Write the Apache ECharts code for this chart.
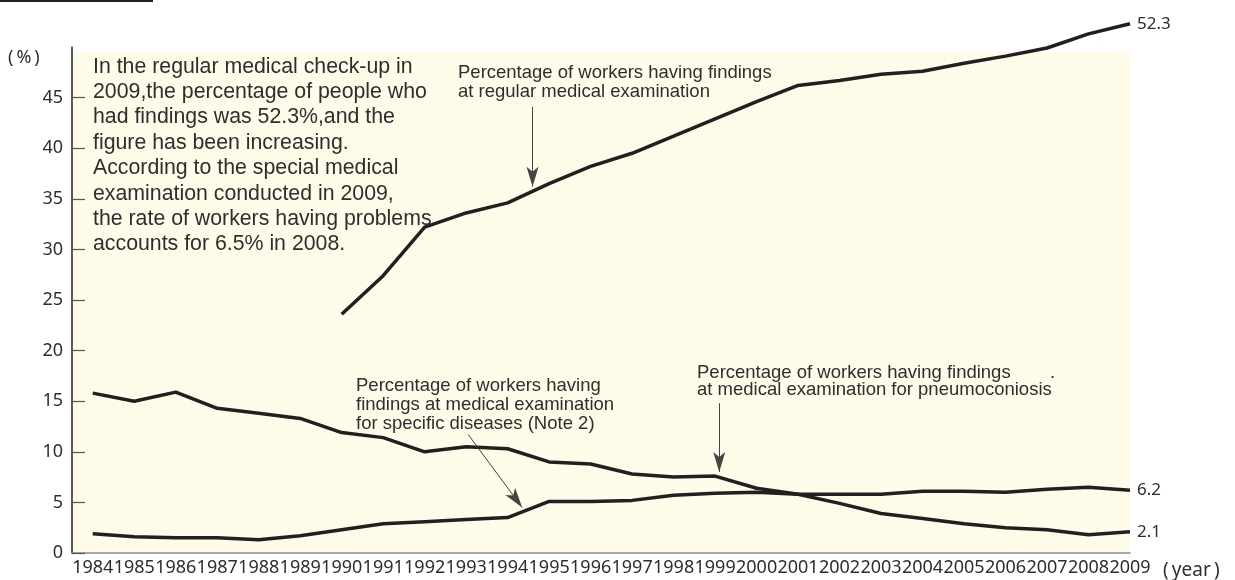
<!DOCTYPE html>
<html>
<head>
<meta charset="utf-8">
<script src="https://cdn.jsdelivr.net/npm/echarts@6/dist/echarts.min.js"></script>
<style>
  html, body { margin: 0; padding: 0; background: #fff; }
  #chart { width: 1235px; height: 580px; }
</style>
</head>
<body>
<div id="chart"></div>
<script>
// years on the x axis
const years = [1984, 1985, 1986, 1987, 1988, 1989, 1990, 1991, 1992, 1993, 1994, 1995, 1996,
  1997, 1998, 1999, 2000, 2001, 2002, 2003, 2004, 2005, 2006, 2007, 2008, 2009];
const regularYears = [1990, 1991, 1992, 1993, 1994, 1995, 1996, 1997, 1998, 1999,
  2000, 2001, 2002, 2003, 2004, 2005, 2006, 2007, 2008, 2009];
const yTicks = [0, 5, 10, 15, 20, 25, 30, 35, 40, 45];

// percentages (%)
const regular = [23.6, 27.4, 32.2, 33.6, 34.6, 36.5, 38.2, 39.5, 41.2, 42.9,
  44.6, 46.2, 46.7, 47.3, 47.6, 48.4, 49.1, 49.9, 51.3, 52.3];
const pneumo = [15.8, 15.0, 15.9, 14.3, 13.8, 13.3, 11.9, 11.4, 10.0, 10.5, 10.3, 9.0, 8.8,
  7.8, 7.5, 7.6, 6.4, 5.8, 4.9, 3.9, 3.4, 2.9, 2.5, 2.3, 1.8, 2.1];
const specific = [1.9, 1.6, 1.5, 1.5, 1.3, 1.7, 2.3, 2.9, 3.1, 3.3, 3.5, 5.1, 5.1,
  5.2, 5.7, 5.9, 6.0, 5.8, 5.8, 5.8, 6.1, 6.1, 6.0, 6.3, 6.5, 6.2];

const noteText = 'In the regular medical check-up in\n2009,the percentage of people who\nhad findings was 52.3%,and the\nfigure has been increasing.\nAccording to the special medical\nexamination conducted in 2009,\nthe rate of workers having problems\naccounts for 6.5% in 2008.';

function pairs(xs, ys) {
    return xs.map(function (x, i) { return [x, ys[i]]; });
}

const lineColor = '#231f20';
const textColor = '#2e2e2e';
const arrowStyle = { color: '#444', width: 1, type: 'solid' };

function lineSeries(name, data, extra) {
    let s = {
        name: name,
        type: 'line',
        data: data,
        showSymbol: false,
        clip: false,
        lineStyle: { color: lineColor, width: 3.5 },
        endLabel: {
            show: true,
            distance: 7,
            color: textColor,
            fontFamily: 'Noto Sans',
            fontSize: 17,
            formatter: function (p) { return p.value[1]; }
        }
    };
    return Object.assign(s, extra || {});
}

function arrow(x1, y1, x2, y2) {
    return [{ coord: [x1, y1] }, { coord: [x2, y2] }];
}

// annotation text, drawn over the plot
function note(x, y, text, size, lh, family) {
    return {
        type: 'text', x: x, y: y, z: 100,
        style: { text: text, font: size + 'px "' + (family || 'Liberation Sans') + '"', lineHeight: lh, fill: textColor }
    };
}

let chart = echarts.init(document.getElementById('chart'));
chart.setOption({
    animation: false,
    grid: { left: 72, right: 105, top: 47, bottom: 27 },
    xAxis: {
        type: 'value',
        min: 1983.5,
        max: 2009,
        splitLine: { show: false },
        axisTick: { show: false },
        axisLine: { lineStyle: { color: '#8a8a8a', width: 1.5 } },
        axisLabel: {
            customValues: years,
            margin: 6,
            color: textColor,
            fontFamily: 'Noto Sans',
            fontSize: 18,
            formatter: function (v) { return String(v); }
        }
    },
    yAxis: {
        type: 'value',
        min: 0,
        max: 50,
        interval: 5,
        splitLine: { show: false },
        axisLine: { show: true, lineStyle: { color: '#222', width: 1.5 } },
        axisTick: { show: true, inside: true, length: 13, customValues: yTicks, lineStyle: { color: '#555', width: 1.2 } },
        axisLabel: {
            customValues: yTicks,
            margin: 9,
            color: textColor,
            fontFamily: 'Noto Sans',
            fontSize: 18,
            formatter: function (v) { return String(v); }
        }
    },
    series: [
        lineSeries('Regular medical examination', pairs(regularYears, regular), {
            z: 3,
            markArea: {
                silent: true,
                z: 0,
                itemStyle: { color: '#fefbe9' },
                data: [[{ coord: [1983.5, 0] }, { coord: [2009, 49.5] }]]
            },
            markLine: {
                silent: true,
                symbol: ['none', 'arrow'],
                symbolSize: [9, 20],
                label: { show: false },
                lineStyle: arrowStyle,
                data: [
                    arrow(1994.6, 44.1, 1994.6, 36.2),
                    arrow(1993.05, 11.7, 1994.35, 4.5),
                    arrow(1999.1, 14.8, 1999.1, 8.0)
                ]
            }
        }),
        lineSeries('Specific diseases (Note 2)', pairs(years, specific)),
        lineSeries('Pneumoconiosis', pairs(years, pneumo))
    ],
    graphic: [
        { type: 'rect', left: 0, top: 0, shape: { width: 153, height: 2 }, style: { fill: '#222' } },
        note(8, 49, '(\u2009%\u2009)', 18, 18, 'Noto Sans'),
        note(1163, 561, '(\u2009year\u2009)', 19, 19, 'Noto Sans'),
        note(93, 54, noteText, 21.3, 25.4),
        note(458, 64, 'Percentage of workers having findings\nat regular medical examination', 18.5, 18.5),
        note(356, 376, 'Percentage of workers having\nfindings at medical examination\nfor specific diseases (Note 2)', 18.5, 19),
        note(697, 364, 'Percentage of workers having findings\nat medical examination for pneumoconiosis', 18.5, 17.5),
        note(1050, 364, '.', 18.5, 17.5)
    ]
});
</script>
</body>
</html>
